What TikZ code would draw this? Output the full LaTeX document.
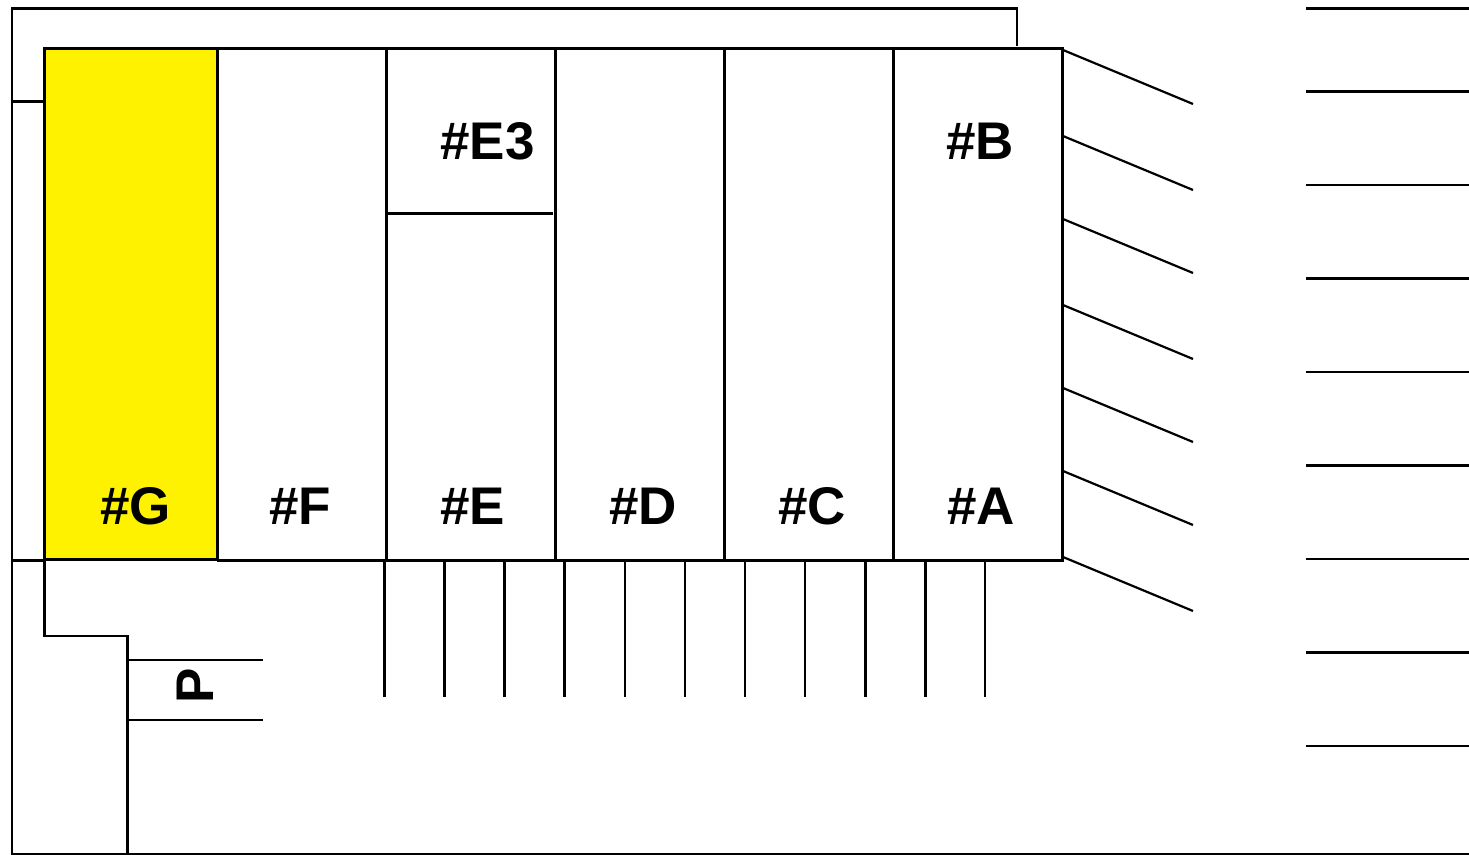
\documentclass[tikz,border=0pt]{standalone}
\usepackage{fontspec}
\setmainfont{Liberation Sans}
\definecolor{unityellow}{RGB}{255,242,0}
\tikzset{
  wall/.style={line width=1.1pt, line cap=butt},
  unitlabel/.style={font=\fontsize{26.5}{26.5}\selectfont\bfseries, inner sep=0pt, anchor=base west}
}
\begin{document}
\begin{tikzpicture}[x=0.5pt, y=-0.5pt]
    \useasboundingbox (0,0) rectangle (1469,855);

    % Outer boundary
    \draw[wall] (1017,46) -- (1017,8.5) -- (12,8.5) -- (12,854) -- (1469,854);
    \draw[wall] (12,101.5) -- (44,101.5);
    \draw[wall] (12,560.5) -- (44,560.5);
    \draw[wall] (44.5,560) -- (44.5,636) -- (127.5,636) -- (127.5,854);

    % Units
    \draw[wall] (217,48.5) -- (1062.5,48.5) -- (1062.5,560.5) -- (217,560.5);
    \foreach \xcol in {386.5,555.5,724.5,893.5}
      \draw[wall] (\xcol,48.5) -- (\xcol,560.5);
    \draw[wall] (387,213.5) -- (553,213.5);
    \draw[wall, line width=1.5pt, fill=unityellow] (44.5,49) rectangle (217.5,560);

    % Unit labels
    \node[unitlabel] (unitG) at (100,524.5) {\#G};
    \node[unitlabel] (unitF) at (269,524.5) {\#F};
    \node[unitlabel] (unitE) at (440,524.5) {\#E};
    \node[unitlabel] (unitD) at (609,524.5) {\#D};
    \node[unitlabel] (unitC) at (778,524.5) {\#C};
    \node[unitlabel] (unitA) at (947,524.5) {\#A};
    \node[unitlabel] (unitE3) at (440,159.5) {\#E3};
    \node[unitlabel] (unitB) at (946,159.5) {\#B};

    % Parking
    \draw[wall] (128,660) -- (263,660);
    \draw[wall] (128,720) -- (263,720);
    \node[unitlabel, anchor=base, rotate=90] (park) at (213,686) {P};
    \foreach \xbay in {384.5,444.5,504.5,564.5,625,685,745,805,865.5,925.5,985}
      \draw[wall] (\xbay,562) -- (\xbay,697);

    % Slanted bays
    \foreach \ybay in {50,136,219,305,388,471,557}
      \draw[wall] (1063,\ybay) -- (1193,\ybay+54);

    % Bays on the right
    \foreach \yrow in {8.5,91.5,185,278.5,372,465.5,559,652.5,746}
      \draw[wall] (1306,\yrow) -- (1469,\yrow);
\end{tikzpicture}
\end{document}
